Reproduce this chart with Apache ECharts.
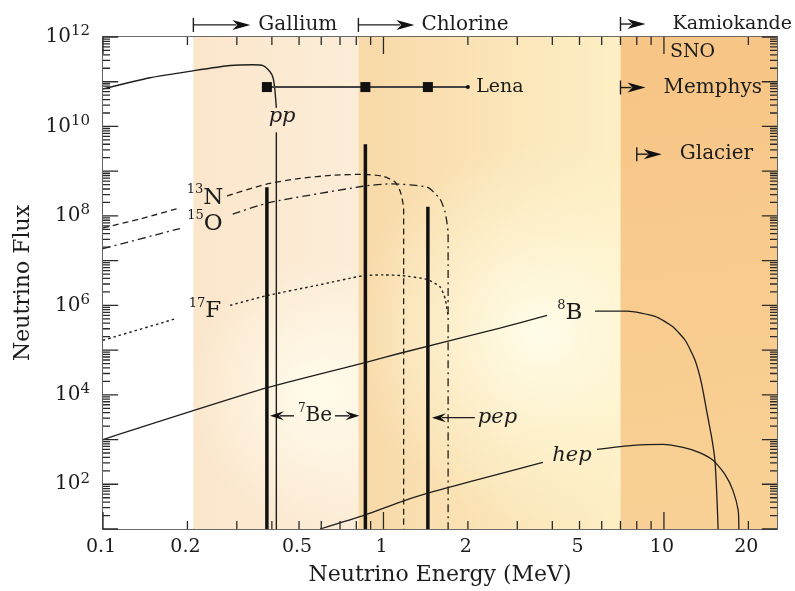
<!DOCTYPE html>
<html>
<head>
<meta charset="utf-8">
<script src="https://cdn.jsdelivr.net/npm/echarts@6.0.0/dist/echarts.min.js"></script>
<style>
html,body{margin:0;padding:0;background:#ffffff;}
#chart{width:795px;height:591px;}
</style>
</head>
<body>
<div id="chart"></div>
<script>
// ---------------- data ----------------
const xTickLabels = [0.1, 0.2, 0.5, 1, 2, 5, 10, 20];
const yLabelExponents = [2, 4, 6, 8, 10, 12];
const bandEdges = [0.1, 0.21, 0.814, 7.0, 25.3];

const ppEnergy = [0.1, 0.147, 0.209, 0.284, 0.343, 0.372, 0.394, 0.404, 0.41, 0.415, 0.415, 0.415, 0.415];
const ppFlux   = [6.9e10, 1.23e11, 1.75e11, 2.3e11, 2.4e11, 2.3e11, 1.67e11, 1.23e11, 6.6e10, 2.6e10, null, 7.4e9, 10];

const n13Energy = [0.1, 0.136, 0.183, 0.2, 0.277, 0.381, 0.504, 0.661, 0.845, 0.996, 1.10, 1.15, 1.18, 1.18];
const n13Flux   = [5.4e7, 8.6e7, 1.44e8, null, 2.8e8, 5.1e8, 6.9e8, 8.1e8, 8.5e8, 7.7e8, 5.7e8, 3.4e8, 1.44e8, 10];

const o15Energy = [0.1, 0.188, 0.2, 0.29, 0.394, 0.845, 1.055, 1.43, 1.59, 1.66, 1.70, 1.70];
const o15Flux   = [1.86e7, 5.2e7, null, 1.1e8, 2.0e8, 4.6e8, 5.2e8, 4.4e8, 2.4e8, 1.2e8, 4e7, 10];

const f17Energy = [0.1, 0.183, 0.2, 0.284, 0.385, 0.579, 0.845, 1.0, 1.17, 1.43, 1.59, 1.66, 1.70];
const f17Flux   = [1.66e5, 5.1e5, null, 1.0e6, 1.66e6, 2.8e6, 4.6e6, 4.8e6, 4.6e6, 3.8e6, 2.6e6, 1.4e6, 5.7e5];

const b8Energy = [0.1, 0.385, 0.873, 1.146, 2.6, 3.83, 4.5, 5.68, 7.38, 9.29, 10.7, 11.9, 12.9, 13.6, 14.2, 14.8, 15.2, 15.45, 15.6];
const b8Flux   = [1.0e3, 1.44e4, 5.4e4, 8.5e4, 3.1e5, 6.0e5, null, 7.4e5, 7.4e5, 5.7e5, 3.4e5, 1.66e5, 6.0e4, 1.85e4, 4.4e3, 1.1e3, 340, 51, 10];

const hepEnergy = [0.594, 0.867, 1.146, 1.44, 1.99, 3.7, 4.5, 5.77, 7.75, 9.91, 11.7, 13.4, 15.0, 16.5, 17.6, 18.4, 18.5];
const hepFlux   = [10, 21, 40, 63, 110, 310, null, 600, 740, 780, 665, 510, 340, 166, 74, 26, 10];

const monoEnergy = [0.384, 0.862, 1.44];
const monoFlux   = [4.4e8, 4.0e9, 1.6e8];

const lenaEnergy = [0.384, 0.862, 1.44, 2.0];
const lenaFlux   = [7.6e10, 7.6e10, 7.6e10, 7.6e10];

const detectorNames     = ['Gallium', 'Chlorine', 'Kamiokande', 'Memphys', 'Glacier'];
const detectorThreshold = [0.21, 0.814, 7.0, 7.0, 8.0];

// ---------------- layout (annotation anchors, in data units) ----------------
const FONT = 'DejaVu Serif';
const INK = '#1c1c1c';
const TICK = '#2a2a2a';
const X_MIN = 0.1, X_MAX = 25.3, Y_MIN = 10, Y_MAX = 1e12;
const detectorLayout = [
  {logF: 12.27, shaft: 39, gap: 8, size: 20},
  {logF: 12.27, shaft: 38, gap: 7, size: 20},
  {logF: 12.29, shaft: 7, gap: 27, size: 19},
  {logF: 10.87, shaft: 7, gap: 18, size: 20},
  {logF: 9.38,  shaft: 7, gap: 18, size: 20}
];
const curveLabels = [
  {text: '{s|13}{n|N}', e: 0.231, logF: 8.40},
  {text: '{s|15}{n|O}', e: 0.231, logF: 7.82},
  {text: '{s|17}{n|F}', e: 0.231, logF: 5.87},
  {text: '{s|8}{n|B}',  e: 4.62,  logF: 5.82}
];

const zip = (E, F) => E.map((e, i) => [e, F[i]]);

// log-axis tick marks drawn as short line pieces (lengths given in decades of the other axis)
const X_TICK_MAJOR = 0.38, X_TICK_MINOR = 0.18;   // along the flux axis
const Y_TICK_MAJOR = 0.054, Y_TICK_MINOR = 0.025; // along the energy axis
const tickLineData = [];
for (let k = -1; k <= 1; k++) for (let m = 1; m <= 9; m++) {
  const e = +(m * Math.pow(10, k)).toPrecision(6);
  if (e < X_MIN || e > X_MAX) continue;
  const d = Math.pow(10, m === 1 ? X_TICK_MAJOR : X_TICK_MINOR);
  tickLineData.push([e, Y_MIN], [e, Y_MIN * d], [e, null]);
  tickLineData.push([e, Y_MAX], [e, Y_MAX / d], [e, null]);
}
for (let k = 1; k <= 12; k++) for (let m = 1; m <= 9; m++) {
  const f = m * Math.pow(10, k);
  if (f > Y_MAX) continue;
  const d = Math.pow(10, m === 1 ? Y_TICK_MAJOR : Y_TICK_MINOR);
  tickLineData.push([X_MIN, f], [X_MIN * d, f], [X_MIN, null]);
  tickLineData.push([X_MAX, f], [X_MAX / d, f], [X_MAX, null]);
}

function seg(x1, y1, x2, y2, w, c) {
  return {type: 'line', shape: {x1: x1, y1: y1, x2: x2, y2: y2}, style: {stroke: c || INK, lineWidth: w || 1.4}};
}
function arrow(ch, xTail, xTip, y, head, half) {
  const dir = xTip > xTail ? 1 : -1;
  const back = xTip - dir * head;
  ch.push(seg(xTail, y, back + dir * 4, y, 1.4));
  ch.push({type: 'polygon', shape: {points: [[xTip, y], [back, y - half], [back + dir * 5, y], [back, y + half]]}, style: {fill: '#111'}});
}
function txt(x, y, text, size, opts) {
  opts = opts || {};
  const st = {text: text, fill: INK, font: (opts.italic ? 'italic ' : '') + size + 'px "' + FONT + '"',
              align: opts.align || 'center', verticalAlign: 'middle'};
  if (opts.rich) st.rich = opts.rich;
  return {type: 'text', x: x, y: y, style: st};
}
const supRich = (big, small) => ({
  s: {fontSize: small, fontFamily: FONT, fill: INK, verticalAlign: 'top', lineHeight: small},
  n: {fontSize: big, fontFamily: FONT, fill: INK, lineHeight: big + 6}
});

function renderBackground(params, api) {
  const top = api.coord([X_MIN, Y_MAX])[1], bot = api.coord([X_MIN, Y_MIN])[1];
  const xs = bandEdges.map(e => api.coord([e, 1e3])[0]);
  const rect = i => ({x: xs[i], y: top, width: xs[i + 1] - xs[i], height: bot - top});
  const LG = echarts.graphic.LinearGradient, RG = echarts.graphic.RadialGradient;
  const ch = [];
  ch.push({type: 'rect', shape: rect(0), style: {fill: '#ffffff'}});
  ch.push({type: 'rect', shape: rect(1), style: {fill: new LG(0, 0, 1, 0, [{offset: 0, color: '#fbe6cb'}, {offset: 1, color: '#fcedd8'}])}});
  ch.push({type: 'rect', shape: rect(1), style: {fill: new RG(0.76, 0.72, 0.8, [{offset: 0, color: 'rgba(255,252,236,0.95)'}, {offset: 1, color: 'rgba(255,252,236,0)'}])}});
  ch.push({type: 'rect', shape: rect(2), style: {fill: new LG(0, 0, 1, 0, [{offset: 0, color: '#f8d9a8'}, {offset: 0.55, color: '#fbe5b8'}, {offset: 1, color: '#fdefc4'}])}});
  ch.push({type: 'rect', shape: rect(2), style: {fill: new RG(0.69, 0.6, 0.72, [{offset: 0, color: 'rgba(255,253,234,1)'}, {offset: 0.5, color: 'rgba(255,250,222,0.55)'}, {offset: 1, color: 'rgba(255,248,215,0)'}])}});
  ch.push({type: 'rect', shape: rect(3), style: {fill: new LG(0, 0, 0.4, 1, [{offset: 0, color: '#f7c585'}, {offset: 1, color: '#f9d196'}])}});
  return {type: 'group', children: ch};
}

function renderAnnotations(params, api) {
  const ch = [];
  const C = (e, lf) => api.coord([e, Math.pow(10, lf)]);
  const bot = api.coord([X_MIN, Y_MIN])[1];
  xTickLabels.forEach(v => {
    const x = api.coord([v, Y_MIN])[0];
    ch.push(txt(x - 2, bot + 18, String(v), 19));
  });
  detectorNames.forEach((name, i) => {
    const L = detectorLayout[i];
    const p = C(detectorThreshold[i], L.logF);
    const x = p[0], y = p[1];
    ch.push(seg(x, y - 7, x, y + 7, 1.4));
    arrow(ch, x, x + L.shaft + 18, y, 18, 5);
    ch.push(txt(x + L.shaft + 18 + L.gap, y, name, L.size, {align: 'left'}));
  });
  let p = C(10.5, 11.67);
  ch.push(txt(p[0], p[1], 'SNO', 19, {align: 'left'}));
  p = C(2.14, 10.88);
  ch.push(txt(p[0], p[1], 'Lena', 19, {align: 'left'}));
  p = C(0.435, 10.22);
  ch.push(txt(p[0], p[1], 'pp', 21, {italic: true}));
  curveLabels.forEach(l => {
    const q = C(l.e, l.logF);
    ch.push(txt(q[0], q[1], l.text, 23, {rich: supRich(23, 13)}));
  });
  p = C(4.7, 2.64);
  ch.push(txt(p[0], p[1], 'hep', 21, {italic: true}));
  p = C(2.17, 3.49);
  ch.push(txt(p[0], p[1], 'pep', 21, {italic: true, align: 'left'}));
  const pepX = api.coord([monoEnergy[2], Y_MIN])[0];
  arrow(ch, p[0] - 3, pepX + 4, p[1], 14, 4.5);
  p = C(0.57, 3.53);
  ch.push(txt(p[0], p[1], '{s|7}{n|Be}', 20, {rich: supRich(20, 12)}));
  const be1 = api.coord([monoEnergy[0], Y_MIN])[0], be2 = api.coord([monoEnergy[1], Y_MIN])[0];
  arrow(ch, p[0] - 21, be1 + 3, p[1], 14, 4.5);
  arrow(ch, p[0] + 20, be2 - 6, p[1], 14, 4.5);
  return {type: 'group', children: ch};
}

const chart = echarts.init(document.getElementById('chart'), null, {renderer: 'canvas'});

const axisLine = {show: true, lineStyle: {color: '#3a3a3a', width: 1.6}};
const curve = (name, data, lineType, width) => ({
  type: 'line', name: name, data: data, showSymbol: false, symbol: 'none', smooth: 0.2,
  connectNulls: false, silent: true, z: 4,
  lineStyle: {color: '#1e1e1e', width: width || 1.3, type: lineType || 'solid'}
});

chart.setOption({
  animation: false,
  backgroundColor: '#ffffff',
  grid: {left: 103, right: 18, top: 37, bottom: 59, containLabel: false},
  xAxis: [
    {type: 'log', logBase: 10, min: X_MIN, max: X_MAX, interval: 1, axisLine: axisLine, axisTick: {show: false},
     axisLabel: {show: false}, splitLine: {show: false},
     name: 'Neutrino Energy (MeV)', nameLocation: 'middle', nameGap: 35,
     nameTextStyle: {fontFamily: FONT, fontSize: 22, color: INK}},
    {type: 'log', logBase: 10, min: X_MIN, max: X_MAX, interval: 1, position: 'top', axisLine: axisLine,
     axisTick: {show: false}, axisLabel: {show: false}, splitLine: {show: false}}
  ],
  yAxis: [
    {type: 'log', logBase: 10, min: Y_MIN, max: Y_MAX, interval: 1, axisLine: axisLine,
     axisTick: {show: false}, splitLine: {show: false},
     name: 'Neutrino Flux', nameLocation: 'middle', nameGap: 69,
     nameTextStyle: {fontFamily: FONT, fontSize: 22, color: INK},
     axisLabel: {
       margin: 13,
       formatter: v => {
         const e = Math.round(Math.log10(v));
         return yLabelExponents.indexOf(e) >= 0 ? '{b|10}{s|' + e + '}' : '';
       },
       rich: {
         b: {fontSize: 20, fontFamily: FONT, color: INK, lineHeight: 26},
         s: {fontSize: 15, fontFamily: FONT, color: INK, verticalAlign: 'top', lineHeight: 15}
       }
     }},
    {type: 'log', logBase: 10, min: Y_MIN, max: Y_MAX, interval: 1, position: 'right', axisLine: axisLine,
     axisTick: {show: false}, axisLabel: {show: false}, splitLine: {show: false}}
  ],
  series: [
    {type: 'custom', silent: true, z: 1, clip: false, data: [[1, 1000]], renderItem: renderBackground},
    {type: 'line', name: 'ticks', data: tickLineData, showSymbol: false, symbol: 'none', smooth: false,
     connectNulls: false, silent: true, z: 9, clip: false,
     lineStyle: {color: TICK, width: 1.3, type: 'solid'}},
    curve('pp', zip(ppEnergy, ppFlux), 'solid', 1.4),
    curve('13N', zip(n13Energy, n13Flux), [6, 4], 1.3),
    curve('15O', zip(o15Energy, o15Flux), [8, 4, 2, 4], 1.3),
    curve('17F', zip(f17Energy, f17Flux), [2.5, 3], 1.4),
    curve('8B', zip(b8Energy, b8Flux), 'solid', 1.3),
    curve('hep', zip(hepEnergy, hepFlux), 'solid', 1.3),
    {type: 'custom', silent: true, z: 5, data: zip(monoEnergy, monoFlux),
     renderItem: (params, api) => {
       const t = api.coord([api.value(0), api.value(1)]);
       const b = api.coord([api.value(0), Y_MIN]);
       return {type: 'line', shape: {x1: t[0], y1: t[1], x2: b[0], y2: b[1]}, style: {stroke: '#111', lineWidth: 3.5}};
     }},
    {type: 'line', name: 'Lena', silent: true, z: 6, showSymbol: true,
     data: zip(lenaEnergy, lenaFlux).map((d, i) => ({value: d,
       symbol: i < lenaEnergy.length - 1 ? 'rect' : 'circle',
       symbolSize: i < lenaEnergy.length - 1 ? 10 : 4})),
     itemStyle: {color: '#111'}, lineStyle: {color: '#444', width: 2}},
    {type: 'custom', silent: true, z: 12, clip: false, data: [[1, 1000]], renderItem: renderAnnotations}
  ]
});
</script>
</body>
</html>
